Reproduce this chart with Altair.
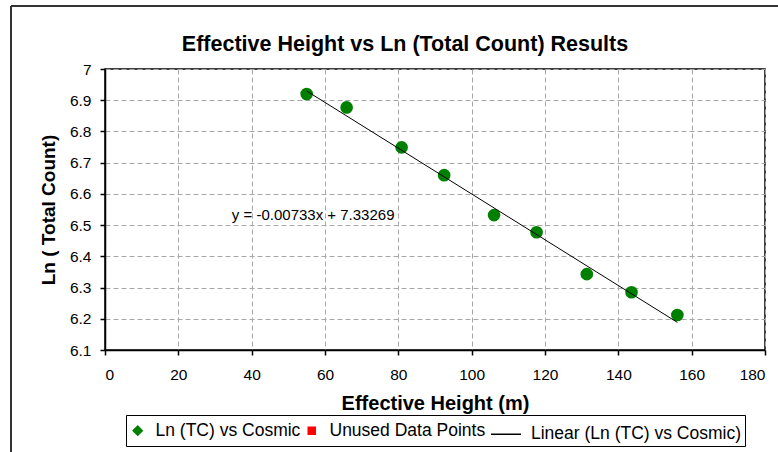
import altair as alt
import pandas as pd

# ---- data ----
effective_height = [55.0, 65.9, 80.9, 92.5, 106.1, 117.7, 131.4, 143.6, 156.1]
ln_total_count = [6.920, 6.877, 6.749, 6.660, 6.532, 6.477, 6.343, 6.285, 6.212]

series_names = ["Ln (TC) vs Cosmic", "Unused Data Points", "Linear (Ln (TC) vs Cosmic)"]
series_colors = ["#008000", "#ff0000", "#000000"]
legend_shapes = ["diamond", "square", "stroke"]
legend_sizes = [81, 49, 900]

trend_slope = -0.00733
trend_intercept = 7.33269

x_ticks = [0, 20, 40, 60, 80, 100, 120, 140, 160, 180]
y_ticks = [6.1, 6.2, 6.3, 6.4, 6.5, 6.6, 6.7, 6.8, 6.9, 7.0]

equation_x = 34.6
equation_y = 6.532

FONT = "Liberation Sans"

# ---- tables ----
points_df = pd.DataFrame({"x": effective_height, "y": ln_total_count})

x_ends = [min(effective_height), max(effective_height)]
line_df = pd.DataFrame({
    "x": x_ends,
    "y": [trend_slope * v + trend_intercept for v in x_ends],
})

eq_text = f"y = {trend_slope:.5f}x + {trend_intercept:.5f}"
eq_df = pd.DataFrame({"x": [equation_x], "y": [equation_y], "label": [eq_text]})

legend_df = pd.DataFrame({"series": series_names})

legend = alt.Legend(
    title=None,
    orient="none",
    legendX=21,
    legendY=346,
    direction="horizontal",
    strokeColor="black",
    padding=3,
    labelFont=FONT,
    labelFontSize=17.5,
    labelColor="black",
    labelOffset=9,
    labelLimit=0,
    symbolStrokeWidth=1.5,
    symbolOpacity=1,
    columnPadding=2,
)

x_enc = alt.X(
    "x:Q",
    scale=alt.Scale(domain=[0, 180], nice=False),
    axis=alt.Axis(values=x_ticks, tickCount=20, title="Effective Height (m)", labelPadding=12,
                  titlePadding=11, titleFontSize=20, labelFontSize=15.5),
)
y_enc = alt.Y(
    "y:Q",
    scale=alt.Scale(domain=[6.1, 7.0], nice=False, zero=False),
    axis=alt.Axis(values=y_ticks, tickCount=20, format=".1~f", title="Ln ( Total Count)",
                  labelPadding=9, titlePadding=11, titleFontSize=19, labelFontSize=15.5,
                  labelOverlap=False),
)

points = alt.Chart(points_df).mark_point(
    filled=True, shape="circle", size=160, opacity=1, color=series_colors[0]
).encode(x=x_enc, y=y_enc)

trend = alt.Chart(line_df).mark_line(color="black", strokeWidth=1).encode(x="x:Q", y="y:Q")

equation = alt.Chart(eq_df).mark_text(
    align="left", baseline="middle", font=FONT, fontSize=15, color="black"
).encode(x="x:Q", y="y:Q", text="label:N")

# legend-only layer (invisible marks; the legend is drawn from its scales)
legend_layer = alt.Chart(legend_df).mark_point(opacity=0, strokeWidth=1.5).encode(
    x=alt.value(0),
    y=alt.value(0),
    fill=alt.Fill("series:N", scale=alt.Scale(domain=series_names, range=series_colors), legend=legend),
    stroke=alt.Stroke("series:N", scale=alt.Scale(domain=series_names, range=series_colors), legend=legend),
    shape=alt.Shape("series:N", scale=alt.Scale(domain=series_names, range=legend_shapes), legend=legend),
    size=alt.Size("series:N", scale=alt.Scale(type="ordinal", domain=series_names, range=legend_sizes),
                  legend=legend),
)

frame_df = pd.DataFrame({"k": [0]})
frame_left = alt.Chart(frame_df).mark_rule(color="#333333", strokeWidth=2).encode(
    x=alt.value(-94), y=alt.value(-63), y2=alt.value(383)
)
frame_top = alt.Chart(frame_df).mark_rule(color="#333333", strokeWidth=2).encode(
    x=alt.value(-94), x2=alt.value(673), y=alt.value(-63)
)

chart = alt.layer(points, trend, equation, legend_layer, frame_left, frame_top).properties(
    width=660,
    height=281,
    padding={"left": 105, "top": 69, "right": 13, "bottom": 102},
    autosize=alt.AutoSizeParams(type="none"),
    background="white",
    title=alt.Title(
        "Effective Height vs Ln (Total Count) Results",
        font=FONT, fontSize=21.5, fontWeight="bold", color="black",
        anchor="middle", frame="group", dx=-30, dy=86, offset=19, baseline="alphabetic",
    ),
).configure_view(
    stroke="black", strokeWidth=1.5
).configure_axis(
    labelFont=FONT,
    titleFont=FONT,
    titleFontWeight="bold",
    labelColor="black",
    titleColor="black",
    domainColor="black",
    domainWidth=1.5,
    tickColor="black",
    tickWidth=1.5,
    tickSize=5,
    grid=True,
    gridColor="#a8a8a8",
    gridDash=[5, 3],
    gridWidth=1,
)

chart.save("out.html", embed_options={"renderer": "svg", "actions": False})
